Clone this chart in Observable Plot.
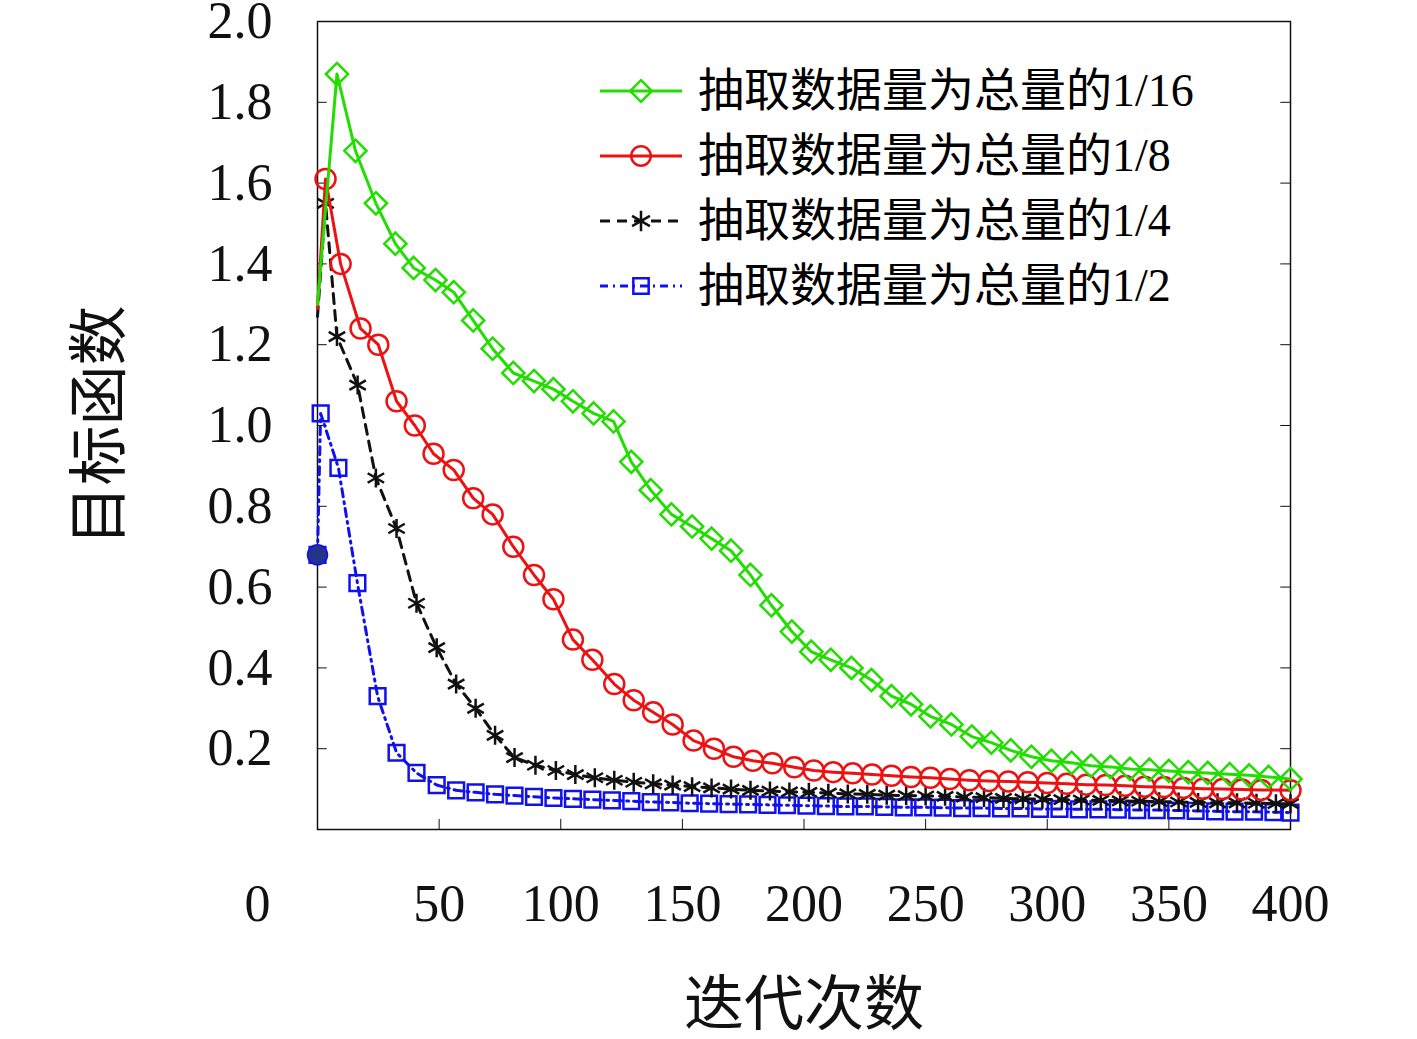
<!DOCTYPE html>
<html><head><meta charset="utf-8">
<script src="https://cdn.jsdelivr.net/npm/d3@7"></script>
<script src="https://cdn.jsdelivr.net/npm/@observablehq/plot@0.6"></script>
<style>
body{margin:0;background:#fff;font-family:"Liberation Serif","Noto Sans CJK SC",serif;}
#wrap{position:relative;width:1417px;height:1039px;}
#legend{position:absolute;left:598px;top:58px;font-size:46px;line-height:65px;font-family:"Liberation Serif","Noto Sans CJK SC",serif;}
#legend div{display:flex;align-items:center;height:65px;}
#legend svg{margin-right:14px;}
</style></head><body><div id="wrap"><div id="legend"></div></div>
<script>
const seriesNames=["抽取数据量为总量的1/16","抽取数据量为总量的1/8","抽取数据量为总量的1/4","抽取数据量为总量的1/2"];
const colors=["#22dd00","#ee1111","#111111","#1111ee"];
const symbols=["diamond2","circle","asterisk","square2"];
const dashes=["none","none","10,7","8,5,2,5"];
const greenX=[0,8,15.6,24,32,39.5,48.5,56,64,72,80.5,89,97,105,113.5,121.7,129,137,145.5,154,162,170,178,186.6,195,203,211,219.5,227.7,236,244,252,260.6,269,277,285,293.5,301.7,310,318,326,334,342,350,358,366,375,383,391,400];
const greenY=[1.3,1.87,1.68,1.55,1.45,1.39,1.36,1.33,1.26,1.19,1.13,1.11,1.09,1.06,1.03,1.01,0.91,0.84,0.78,0.75,0.72,0.69,0.63,0.555,0.49,0.44,0.42,0.40,0.37,0.33,0.31,0.28,0.26,0.23,0.215,0.196,0.18,0.17,0.165,0.158,0.155,0.15,0.148,0.145,0.142,0.14,0.137,0.134,0.13,0.125];
const redX=[0,3.3,9.5,17.7,25,32.5,40,47.7,56,64,72,80.5,89,97,105,113,122,130,138,146,154.6,163,171,179,187,196,204,212,220,228,236,244,252,260,268,276,284,292,300,308,316,324,332,340,348,356,364,372,380,388,400];
const redY=[1.29,1.61,1.40,1.24,1.20,1.06,1.0,0.93,0.89,0.82,0.78,0.70,0.63,0.57,0.47,0.42,0.36,0.32,0.29,0.26,0.22,0.20,0.18,0.17,0.164,0.154,0.146,0.142,0.139,0.136,0.133,0.13,0.128,0.125,0.122,0.12,0.119,0.117,0.115,0.113,0.111,0.11,0.108,0.106,0.105,0.103,0.101,0.1,0.099,0.098,0.097];
const blackX=[0,3.3,8,16.5,24,32.5,40.7,49,57,65,73,81,89.6,98,106,114,122,130,138,146,154,162,170,178,186,194,202,210,218,226,234,242,250,258,266,274,282,290,298,306,314,322,330,338,346,354,362,370,378,386,394,400];
const blackY=[1.27,1.55,1.22,1.10,0.87,0.745,0.56,0.45,0.36,0.30,0.233,0.178,0.159,0.146,0.136,0.128,0.122,0.117,0.113,0.11,0.106,0.103,0.1,0.097,0.095,0.093,0.092,0.09,0.088,0.087,0.085,0.084,0.083,0.082,0.08,0.079,0.077,0.076,0.075,0.074,0.073,0.072,0.071,0.07,0.069,0.068,0.067,0.066,0.066,0.065,0.064,0.064];
const blueX=[0,1.3,8.6,16.4,24.7,32.5,40.7,49,57,65,73,81,89,97,105,113,121,129,137,145,153,161,169,177,185,193,201,209,217,225,233,241,249,257,265,273,281,289,297,305,313,321,329,337,345,353,361,369,377,385,393,400];
const blueY=[0.68,1.03,0.895,0.61,0.33,0.19,0.14,0.11,0.097,0.092,0.087,0.084,0.081,0.078,0.076,0.074,0.072,0.07,0.068,0.067,0.065,0.064,0.063,0.062,0.061,0.06,0.059,0.058,0.057,0.057,0.056,0.055,0.055,0.054,0.053,0.053,0.052,0.052,0.051,0.051,0.05,0.05,0.049,0.048,0.048,0.047,0.046,0.045,0.044,0.044,0.043,0.042];
const xTicks=[0,50,100,150,200,250,300,350,400];
const yTicks=[0.2,0.4,0.6,0.8,1.0,1.2,1.4,1.6,1.8,2.0];

const all=[[greenX,greenY],[redX,redY],[blackX,blackY],[blueX,blueY]];
const marks=[];
[3,2,1,0].forEach(i=>{
  const d=all[i][0].map((x,j)=>({x,y:all[i][1][j]}));
  marks.push(Plot.line(d,{x:"x",y:"y",stroke:colors[i],strokeWidth:3,strokeDasharray:dashes[i]}));
  marks.push(Plot.dot(d.slice(i===3?0:1),{x:"x",y:"y",stroke:colors[i],symbol:symbols[i],r:i===2?9:10,strokeWidth:2.5,fill:"none"}));
});
marks.push(Plot.dot([{x:0,y:0.68}],{x:"x",y:"y",r:10,fill:"#223388",stroke:"#1111ee"}));
const font='"Liberation Serif","Noto Sans CJK SC",serif';
const chart=Plot.plot({
  width:1417,height:1039,marginLeft:317,marginRight:127,marginTop:21,marginBottom:210,
  style:{fontFamily:font,fontSize:"52px",background:"transparent",color:"#111"},
  x:{domain:[0,400],ticks:xTicks.filter(t=>t>0),tickSize:0,tickPadding:55,label:"迭代次数",labelAnchor:"center",labelOffset:195,labelArrow:"none",tickFormat:d=>String(d)},
  y:{domain:[0,2],ticks:yTicks,tickSize:0,tickPadding:45,label:"目标函数",labelAnchor:"center",labelOffset:240,labelArrow:"none",tickFormat:d=>d.toFixed(1)},
  marks:[
    Plot.frame({stroke:"#111",strokeWidth:1.5}),
    Plot.ruleY(yTicks,{x1:0,x2:4,stroke:"#111"}),
    Plot.ruleY(yTicks,{x1:396,x2:400,stroke:"#111"}),
    Plot.ruleX(xTicks,{y1:0,y2:0.025,stroke:"#111"}),
    Plot.text([0],{x:d=>d,y:0,text:d=>String(d),dx:-60,dy:75,fontSize:52}),
    ...marks
  ]
});
chart.style.fontFamily=font;
chart.style.overflow="visible";
d3.select(chart).selectAll("[aria-label='x-axis label'] text, [aria-label='y-axis label'] text").style("font-size","60px");
document.getElementById("wrap").prepend(chart);
const lg=document.getElementById("legend");
const symMap={diamond2:d3.symbolDiamond2,circle:d3.symbolCircle,asterisk:d3.symbolAsterisk,square2:d3.symbolSquare2};
seriesNames.forEach((n,i)=>{
  const row=document.createElement("div");
  const sym=d3.symbol(symMap[symbols[i]],300)();
  row.innerHTML=`<svg width="86" height="40"><line x1="2" x2="84" y1="20" y2="20" stroke="${colors[i]}" stroke-width="3" stroke-dasharray="${dashes[i]}"/><path transform="translate(43,20)" d="${sym}" fill="none" stroke="${colors[i]}" stroke-width="2.5"/></svg><span>${n}</span>`;
  lg.appendChild(row);
});
</script></body></html>
